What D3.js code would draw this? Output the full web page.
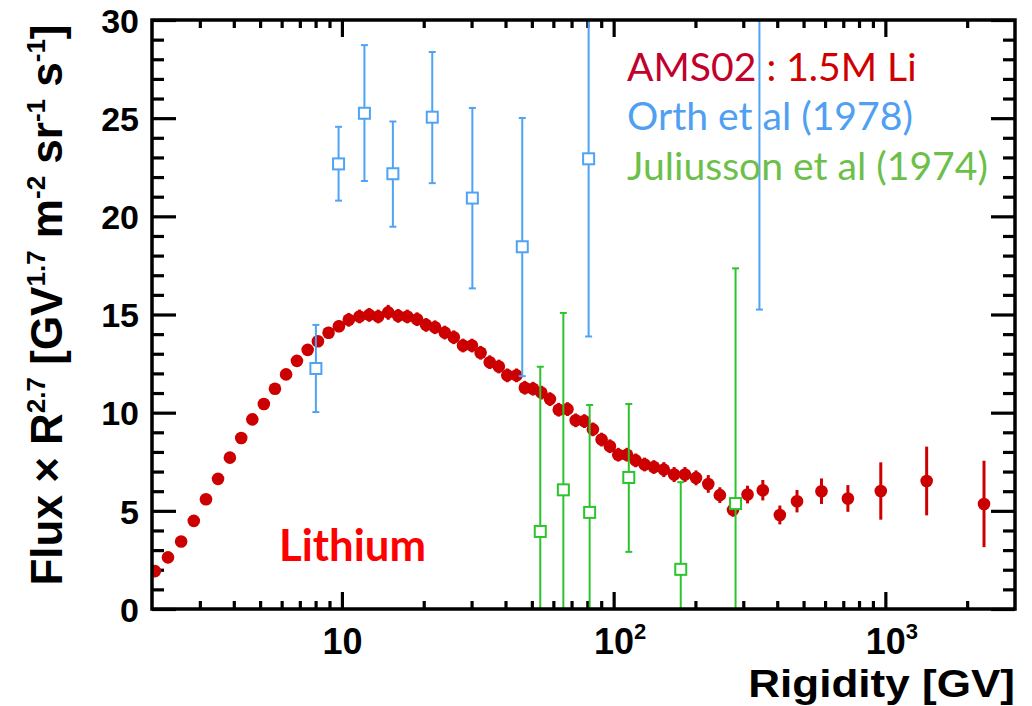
<!DOCTYPE html>
<html>
<head>
<meta charset="utf-8">
<script src="https://cdn.jsdelivr.net/npm/d3@7/dist/d3.min.js"></script>
<style>
  html, body { margin: 0; padding: 0; background: #ffffff; }
  svg { display: block; }
</style>
</head>
<body>
<svg id="chart" width="1032" height="706"></svg>
<script>
// ---------------- DATA ----------------
// AMS-02 lithium: rigidity [GV], flux x R^2.7, symmetric error
const amsRigidity = [2.05, 2.29, 2.56, 2.85, 3.16, 3.50, 3.87, 4.26, 4.68, 5.16, 5.67, 6.23, 6.83, 7.48, 8.16, 8.93, 9.75,
  10.6, 11.6, 12.6, 13.6, 14.8, 16.1, 17.4, 18.9, 20.4, 22.0, 23.9, 25.8, 27.9, 30.1, 32.4, 35.0, 37.8, 40.6, 43.9,
  47.1, 50.5, 54.2, 58.3, 62.8, 67.6, 72.5, 78.0, 83.9, 90.3, 96.9, 104, 112, 120.5, 130, 140.6, 153, 167, 183, 201,
  223, 246, 275, 311, 354, 409, 473, 582, 728, 962, 1419, 2307];
const amsFlux = [1.93, 2.63, 3.44, 4.49, 5.59, 6.63, 7.71, 8.71, 9.66, 10.44, 11.22, 11.95, 12.64, 13.2, 13.64, 14.07, 14.4,
  14.73, 14.9, 14.98, 14.9, 15.11, 14.93, 14.9, 14.76, 14.47, 14.35, 14.08, 13.84, 13.42, 13.42, 13.05, 12.57, 12.35, 11.9, 11.9,
  11.27, 11.22, 11.02, 10.69, 10.15, 10.18, 9.61, 9.57, 9.15, 8.63, 8.29, 7.86, 7.86, 7.57, 7.36, 7.23, 7.10, 6.85, 6.85, 6.68,
  6.37, 5.80, 5.05, 5.83, 6.05, 4.79, 5.49, 6.0, 5.63, 6.01, 6.52, 5.35];
const amsError = [0.15, 0.15, 0.15, 0.15, 0.15, 0.15, 0.15, 0.15, 0.15, 0.2, 0.2, 0.2, 0.2, 0.2, 0.25, 0.3, 0.3,
  0.35, 0.35, 0.35, 0.35, 0.38, 0.35, 0.35, 0.35, 0.35, 0.35, 0.35, 0.35, 0.35, 0.35, 0.35, 0.35, 0.35, 0.35, 0.35,
  0.35, 0.35, 0.35, 0.35, 0.35, 0.35, 0.35, 0.35, 0.35, 0.35, 0.35, 0.35, 0.35, 0.35, 0.35, 0.35, 0.38, 0.38, 0.38, 0.38,
  0.45, 0.4, 0.35, 0.45, 0.52, 0.48, 0.57, 0.65, 0.68, 1.46, 1.75, 2.2];

// Orth et al (1978)
const orthRigidity = [8.02, 9.72, 12.1, 15.4, 21.5, 30.2, 46.1, 80.9, 344];
const orthFlux     = [12.25, 22.67, 25.25, 22.17, 25.05, 20.93, 18.45, 22.93, 34.0];
const orthLow      = [10.03, 20.8, 21.8, 19.47, 21.69, 16.33, 11.86, 13.88, 15.25];
const orthHigh     = [14.47, 24.56, 28.72, 24.83, 28.37, 25.52, 25.01, 32.0, 50.0];

// Juliusson et al (1974)
const julRigidity = [53.7, 65.3, 81.6, 113.7, 176.6, 281];
const julFlux     = [3.95, 6.07, 4.92, 6.70, 2.02, 5.37];
const julLow      = [-3, -3, -3, 2.91, -3, -3];
const julHigh     = [12.34, 15.08, 10.39, 10.44, 6.46, 17.35];

// Axis ticks
const yMajorTicks = [0, 5, 10, 15, 20, 25, 30];
const yMinorTicks = d3.range(0, 31, 1).filter(v => v % 5 !== 0);
const xMajorTicks = [10, 100, 1000];
const xMajorLabels = [["10", ""], ["10", "2"], ["10", "3"]];
const xMinorTicks = [3,4,5,6,7,8,9, 20,30,40,50,60,70,80,90, 200,300,400,500,600,700,800,900, 2000];

const legendItems = [
  {parts: [["AMS02", "#c2002c"], [" : 1.5M Li", "#d00000"]]},
  {parts: [["Orth et al (1978)", "#4fa0f2"]]},
  {parts: [["Juliusson et al (1974)", "#6cc04a"]]}
];
const panelLabel = "Lithium";
const xTitle = "Rigidity [GV]";

// ---------------- LAYOUT ----------------
const svg = d3.select("#chart");
const L = 152, R = 1015, T = 20, B = 609;
const x = d3.scaleLog().domain([2, 3000]).range([L, R]);
const y = d3.scaleLinear().domain([0, 30]).range([B, T]);

const RED = "#cc0000", BLUE = "#4fa3f5", GREEN = "#2cc42c";
const numFont = "'Liberation Sans', Arial, sans-serif";
const txtFont = "Lato, 'Open Sans', sans-serif";

svg.append("defs").append("clipPath").attr("id", "plotclip")
  .append("rect").attr("x", L).attr("y", T).attr("width", R - L).attr("height", B - T);

// ---------------- AXES ----------------
function styleAxis(g) {
  g.select(".domain").remove();
  g.selectAll(".tick line").attr("stroke", "#000").attr("stroke-width", 3.2);
}
// left
svg.append("g").attr("transform", `translate(${L},0)`)
  .call(d3.axisLeft(y).tickValues(yMajorTicks).tickSizeInner(-24).tickSizeOuter(0).tickPadding(13).tickFormat(d3.format("d")))
  .call(styleAxis)
  .call(g => g.selectAll(".tick text").attr("font-family", numFont).attr("font-weight", "bold")
    .attr("font-size", 34).attr("fill", "#000").attr("dy", "0.36em"));
svg.append("g").attr("transform", `translate(${L},0)`)
  .call(d3.axisLeft(y).tickValues(yMinorTicks).tickSizeInner(-12).tickSizeOuter(0).tickFormat(""))
  .call(styleAxis);
// right
svg.append("g").attr("transform", `translate(${R},0)`)
  .call(d3.axisRight(y).tickValues(yMajorTicks).tickSizeInner(-24).tickSizeOuter(0).tickFormat(""))
  .call(styleAxis);
svg.append("g").attr("transform", `translate(${R},0)`)
  .call(d3.axisRight(y).tickValues(yMinorTicks).tickSizeInner(-12).tickSizeOuter(0).tickFormat(""))
  .call(styleAxis);
// bottom
const xb = svg.append("g").attr("transform", `translate(0,${B})`)
  .call(d3.axisBottom(x).tickValues(xMajorTicks).tickSizeInner(-17).tickSizeOuter(0).tickFormat(""))
  .call(styleAxis);
xb.selectAll(".tick text").remove();
xb.selectAll(".tick").each(function(d, i) {
  const lab = xMajorLabels[i];
  const t = d3.select(this).append("text").attr("class", "xlab")
    .attr("x", lab[1] ? 6 : 0).attr("y", 45).attr("text-anchor", "middle")
    .attr("font-family", numFont).attr("font-weight", "bold").attr("font-size", 36).attr("fill", "#000");
  t.append("tspan").text(lab[0]);
  if (lab[1]) t.append("tspan").attr("font-size", 22).attr("dy", -15).text(lab[1]);
});
svg.append("g").attr("transform", `translate(0,${B})`)
  .call(d3.axisBottom(x).tickValues(xMinorTicks).tickSizeInner(-8).tickSizeOuter(0).tickFormat(""))
  .call(styleAxis);
// top
svg.append("g").attr("transform", `translate(0,${T})`)
  .call(d3.axisTop(x).tickValues(xMajorTicks).tickSizeInner(-17).tickSizeOuter(0).tickFormat(""))
  .call(styleAxis);
svg.append("g").attr("transform", `translate(0,${T})`)
  .call(d3.axisTop(x).tickValues(xMinorTicks).tickSizeInner(-8).tickSizeOuter(0).tickFormat(""))
  .call(styleAxis);

// ---------------- DATA MARKS ----------------
const plot = svg.append("g").attr("clip-path", "url(#plotclip)");

function openSeries(rig, val, lo, hi, color) {
  const g = plot.append("g");
  const data = rig.map((r, i) => ({r, v: val[i], lo: lo[i], hi: hi[i]}));
  g.selectAll("line.bar").data(data).join("line").attr("class", "bar")
    .attr("x1", d => x(d.r)).attr("x2", d => x(d.r))
    .attr("y1", d => y(d.lo)).attr("y2", d => y(d.hi))
    .attr("stroke", color).attr("stroke-width", 2);
  g.selectAll("line.caplo").data(data).join("line").attr("class", "caplo")
    .attr("x1", d => x(d.r) - 3.5).attr("x2", d => x(d.r) + 3.5)
    .attr("y1", d => y(d.lo)).attr("y2", d => y(d.lo))
    .attr("stroke", color).attr("stroke-width", 2);
  g.selectAll("line.caphi").data(data).join("line").attr("class", "caphi")
    .attr("x1", d => x(d.r) - 3.5).attr("x2", d => x(d.r) + 3.5)
    .attr("y1", d => y(d.hi)).attr("y2", d => y(d.hi))
    .attr("stroke", color).attr("stroke-width", 2);
  g.selectAll("rect").data(data).join("rect")
    .attr("x", d => x(d.r) - 5.5).attr("y", d => y(d.v) - 5.5)
    .attr("width", 11).attr("height", 11)
    .attr("fill", "#fff").attr("stroke", color).attr("stroke-width", 2);
}

// AMS
const ams = amsRigidity.map((r, i) => ({r, v: amsFlux[i], e: amsError[i]}));
const gA = plot.append("g");
gA.selectAll("line").data(ams).join("line")
  .attr("x1", d => x(d.r)).attr("x2", d => x(d.r))
  .attr("y1", d => y(d.v - d.e)).attr("y2", d => y(d.v + d.e))
  .attr("stroke", RED).attr("stroke-width", 3);
gA.selectAll("circle").data(ams).join("circle")
  .attr("cx", d => x(d.r)).attr("cy", d => y(d.v)).attr("r", 6.3)
  .attr("fill", RED);

openSeries(julRigidity, julFlux, julLow, julHigh, GREEN);
openSeries(orthRigidity, orthFlux, orthLow, orthHigh, BLUE);

// frame
svg.append("rect").attr("x", L).attr("y", T).attr("width", R - L).attr("height", B - T)
  .attr("fill", "none").attr("stroke", "#000").attr("stroke-width", 3.5);

// ---------------- TEXT ----------------
function fitFont(sel, target) {
  const w = sel.node().getComputedTextLength();
  const fs = parseFloat(sel.attr("font-size"));
  sel.attr("font-size", fs * target / w);
}

// legend
const legendY = [81, 130, 180];
const legendTexts = legendItems.map((item, i) => {
  const t = svg.append("text").attr("x", 627).attr("y", legendY[i])
    .attr("font-family", txtFont).attr("font-size", 36);
  item.parts.forEach(p => t.append("tspan").attr("fill", p[1]).text(p[0]));
  return t;
});
{
  const w = legendTexts[2].node().getComputedTextLength();
  const fs = 36 * 361 / w;
  legendTexts.forEach(t => t.attr("font-size", fs));
}

// panel label
const lab = svg.append("text").attr("x", 279).attr("y", 561)
  .attr("font-family", txtFont).attr("font-weight", "bold").attr("font-size", 40)
  .attr("fill", "#ff0000").text(panelLabel);
fitFont(lab, 147);

// x title (slightly widened, as in the reference)
svg.append("text").attr("transform", `translate(${R},697) scale(1.13,1)`).attr("text-anchor", "end")
  .attr("font-family", numFont).attr("font-weight", "bold").attr("font-size", 39)
  .attr("fill", "#000").text(xTitle);

// y title
const yt = svg.append("text").attr("transform", "translate(62,305) rotate(-90)")
  .attr("text-anchor", "middle").attr("font-family", numFont).attr("font-weight", "bold")
  .attr("font-size", 44).attr("fill", "#000");
const ySegs = [["Flux \u00d7 R", false], ["2.7", true], [" [GV", false], ["1.7", true], [" m", false], ["-2", true],
  [" sr", false], ["-1", true], [" s", false], ["-1", true], ["]", false]];
ySegs.forEach(([s, sup]) => {
  const sp = yt.append("tspan").text(s);
  if (sup) sp.attr("font-size", 26).attr("dy", -17);
  else if (s !== ySegs[0][0]) sp.attr("dy", 17);
});
</script>
</body>
</html>
